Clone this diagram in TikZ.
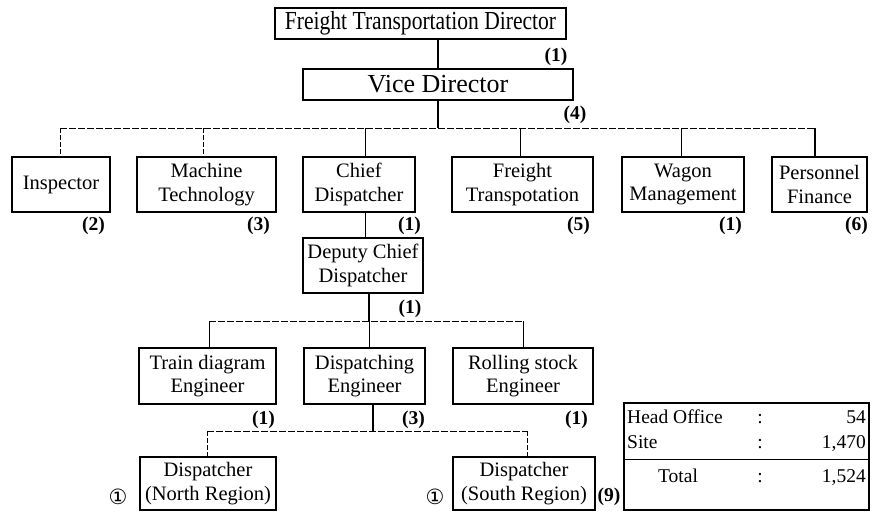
\documentclass[tikz,border=0pt]{standalone}
\usepackage{fontspec}
\setmainfont{Liberation Serif}
\newfontfamily\narrowserif[FakeStretch=0.83]{Liberation Serif}
\newfontfamily\symbolfont{DejaVu Sans}
\begin{document}
\begin{tikzpicture}[x=1pt,y=-1pt,
  box/.style={draw=black,line width=1.7pt,rectangle,inner sep=0pt,align=center,
    font=\fontsize{20.5}{23.5}\selectfont},
  num/.style={font=\bfseries\fontsize{19.5}{21}\selectfont,inner sep=0pt},
  circ/.style={font=\symbolfont\fontsize{21}{23}\selectfont,inner sep=0pt},
  cell/.style={font=\fontsize{19.5}{22}\selectfont,inner sep=0pt},
  trunk/.style={draw=black,line width=1.2pt},
  drop/.style={draw=black,line width=0.8pt},
  bar/.style={draw=black,line width=0.8pt,dash pattern=on 7pt off 2pt},
  ddrop/.style={draw=black,line width=0.8pt,dash pattern=on 5pt off 2pt}]
\useasboundingbox (0,0) rectangle (873,513);

% top levels
\node[box,minimum width=291,minimum height=31,font=\narrowserif\fontsize{26}{28}\selectfont] (dir) at (420.5,23.5) {Freight Transportation Director};
\node[box,minimum width=270,minimum height=31,font=\fontsize{26}{28}\selectfont] (vice) at (438,84.5) {Vice Director};
\node[num] (ndir) at (556,57) {(1)};
\node[num] (nvice) at (575,115) {(4)};

% departments
\node[box,minimum width=98,minimum height=55] (insp) at (61,184.5) {Inspector};
\node[box,minimum width=139,minimum height=55] (mach) at (206.5,184.5) {Machine\\Technology};
\node[box,minimum width=112,minimum height=55] (chief) at (359,184.5) {Chief\\Dispatcher};
\node[box,minimum width=141,minimum height=55] (frt) at (522.5,184.5) {Freight\\Transpotation};
\node[box,minimum width=122,minimum height=55] (wag) at (683,184.5) {Wagon\\Management};
\node[box,minimum width=95,minimum height=55] (pers) at (819.5,184.5) {Personnel\\Finance};

\node[num,anchor=east] (ninsp) at (105,226) {(2)};
\node[num,anchor=east] (nmach) at (270,226) {(3)};
\node[num,anchor=east] (nchief) at (421,226) {(1)};
\node[num,anchor=east] (nfrt) at (590,226) {(5)};
\node[num,anchor=east] (nwag) at (742,226) {(1)};
\node[num,anchor=east] (npers) at (868,226) {(6)};

% dispatching section
\node[box,minimum width=120,minimum height=55] (dep) at (363,265.5) {Deputy Chief\\Dispatcher};
\node[num] (ndep) at (410,309) {(1)};

\node[box,minimum width=137,minimum height=56] (train) at (207.5,376) {Train diagram\\Engineer};
\node[box,minimum width=121,minimum height=56] (deng) at (364.5,376) {Dispatching\\Engineer};
\node[box,minimum width=140,minimum height=56] (roll) at (523,376) {Rolling stock\\Engineer};
\node[num,anchor=east] (ntrain) at (275,420) {(1)};
\node[num,anchor=east] (ndeng) at (425,420) {(3)};
\node[num,anchor=east] (nroll) at (588,420) {(1)};

\node[box,minimum width=136,minimum height=53] (north) at (208,483.5) {Dispatcher\\(North Region)};
\node[box,minimum width=142,minimum height=53] (south) at (524,483.5) {Dispatcher\\(South Region)};
\node[circ] (cn) at (118,497) {①};
\node[circ] (cs) at (435,497) {①};
\node[num] (nsouth) at (609,497) {(9)};

% staff summary
\node[draw=black,line width=1.7pt,minimum width=245,minimum height=107,inner sep=0pt] (tab) at (746.5,456.5) {};
\coordinate (tdl) at (624,459);
\coordinate (tdr) at (869,459);
\draw[line width=1pt] (tdl) -- (tdr);
\node[cell,anchor=base west] (ho) at (627,423) {Head Office};
\node[cell,anchor=base] (hoc) at (760,423) {:};
\node[cell,anchor=base east] (hov) at (866,423) {54};
\node[cell,anchor=base west] (si) at (627,448) {Site};
\node[cell,anchor=base] (sic) at (760,448) {:};
\node[cell,anchor=base east] (siv) at (866,448) {1,470};
\node[cell,anchor=base] (to) at (678,482) {Total};
\node[cell,anchor=base] (toc) at (760,482) {:};
\node[cell,anchor=base east] (tov) at (866,482) {1,524};

% connectors
\coordinate (b1) at (438,128);
\coordinate (b1l) at (60,128);
\coordinate (b1r) at (815,128);
\draw[trunk] (dir.south -| b1) -- (vice.north -| b1);
\draw[trunk] (vice.south -| b1) -- (b1);
\draw[bar] (b1l) -- (b1r);
\draw[ddrop] (b1l) -- (insp.north -| b1l);
\draw[ddrop] (b1l -| 203,0) -- (mach.north -| 203,0);
\draw[drop] (b1l -| 365,0) -- (chief.north -| 365,0);
\draw[drop] (b1l -| 520,0) -- (frt.north -| 520,0);
\draw[drop] (b1l -| 681,0) -- (wag.north -| 681,0);
\draw[trunk] (b1r) -- (pers.north -| b1r);

\draw[drop] (chief.south -| 365,0) -- (dep.north -| 365,0);

\coordinate (b2) at (369,321);
\coordinate (b2l) at (209,321);
\coordinate (b2r) at (523,321);
\draw[trunk] (dep.south -| b2) -- (b2);
\draw[bar] (b2l) -- (b2r);
\draw[drop] (b2l) -- (train.north -| b2l);
\draw[drop] (b2) -- (deng.north -| b2);
\draw[drop] (b2r) -- (roll.north -| b2r);

\coordinate (b3) at (373,431);
\coordinate (b3l) at (207,431);
\coordinate (b3r) at (527,431);
\draw[trunk] (deng.south -| b3) -- (b3);
\draw[bar] (b3l) -- (b3r);
\draw[ddrop] (b3l) -- (north.north -| b3l);
\draw[ddrop] (b3r) -- (south.north -| b3r);
\end{tikzpicture}
\end{document}
